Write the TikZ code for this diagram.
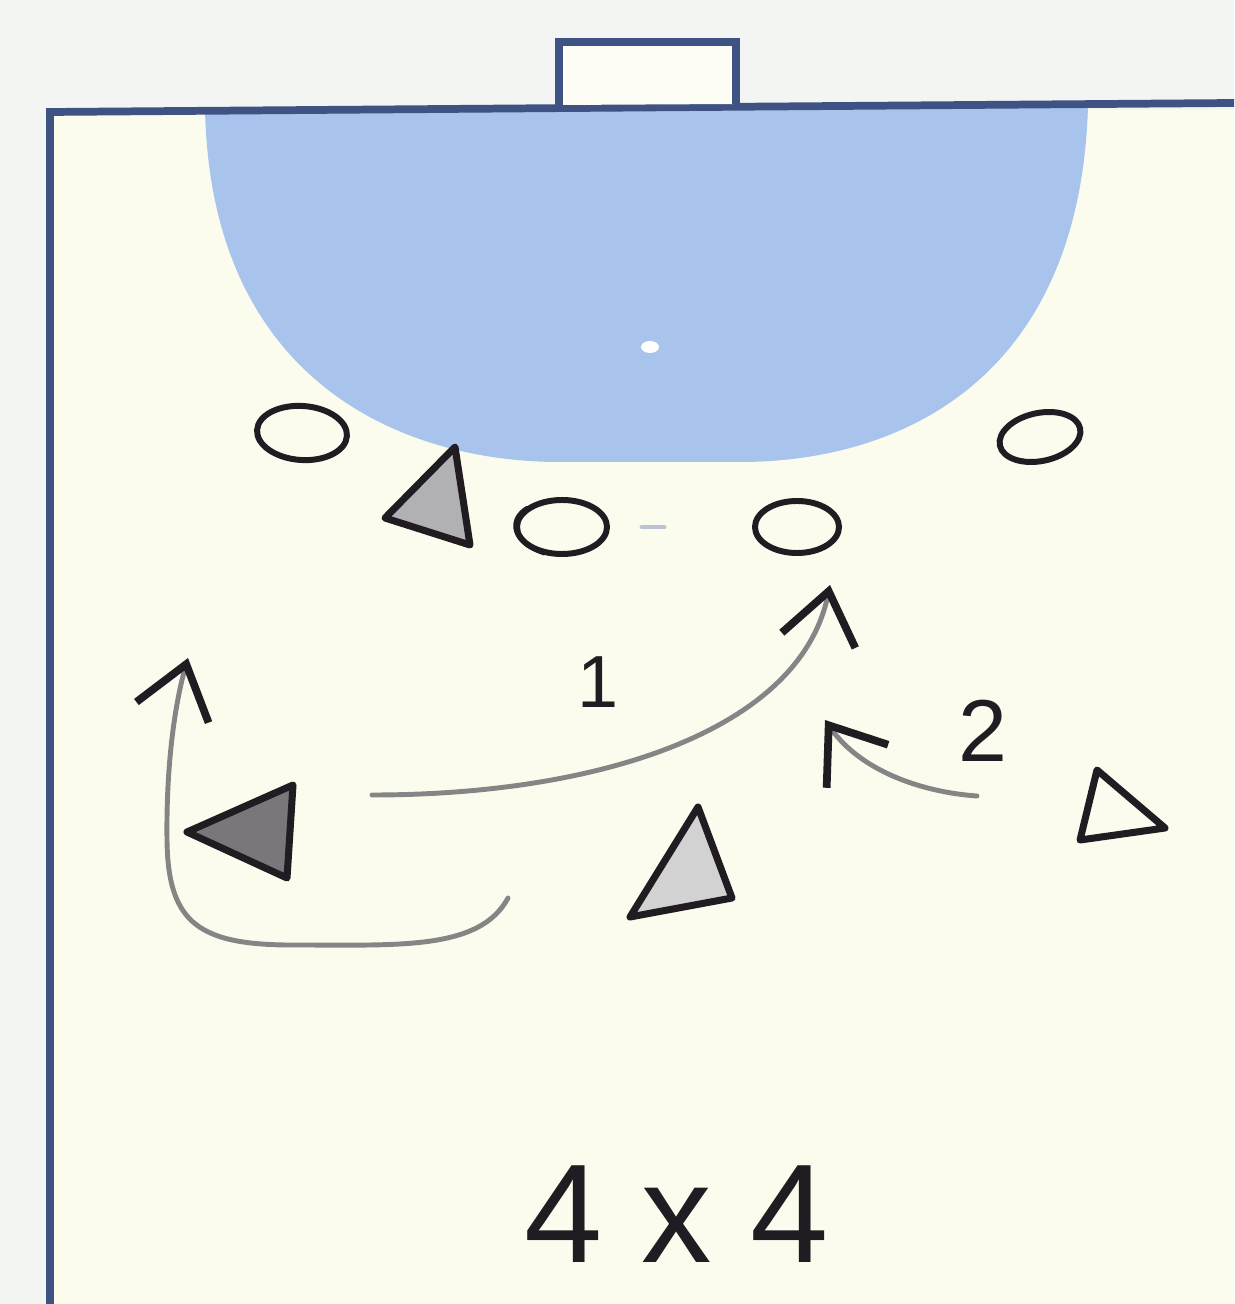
\documentclass[tikz,border=0pt]{standalone}
\usepackage{fontspec}
\setmainfont{Liberation Sans}
\usepackage{xcolor}
\usetikzlibrary{arrows.meta,shapes.geometric}

\definecolor{courtline}{RGB}{62,82,132}
\definecolor{zone}{RGB}{168,196,236}
\definecolor{floor}{RGB}{252,252,238}
\definecolor{paper}{RGB}{243,245,243}
\definecolor{pen}{RGB}{32,28,34}

\begin{document}
\begin{tikzpicture}[
  x=0.01cm, y=-0.01cm,
  court/.style={draw=courtline, line width=2.2pt, line join=miter},
  def/.style={draw=pen, ellipse, line width=1.7pt, inner sep=0},
  att/.style={draw=pen, line width=2pt, line join=round},
  run/.style={draw=black!48, line width=1.4pt, line cap=round,
    -{Straight Barb[color=pen, length=5mm, width=7.5mm, line width=2.2pt]}},
  lbl/.style={text=pen, inner sep=0}
]
\useasboundingbox (0,0) rectangle (1234,1304);
\fill[paper] (0,0) rectangle (1234,1304);
\fill[floor] (50,110) rectangle (1234,1304);

\fill[zone] (205,108) .. controls (210,380) and (400,462) .. (560,462) -- (740,462)
  .. controls (900,462) and (1080,380) .. (1088,106) -- cycle;
\fill[white] (650,347) ellipse [x radius=9, y radius=6];

\draw[court] (50,1304) -- (50,112) -- (1234,103);
\draw[court, fill=floor!60!white] (559,105) -- (559,42) -- (736,42) -- (736,104);

\node[def, minimum width=9mm, minimum height=5.4mm, rotate=-4] (d1) at (302,433) {};
\node[def, minimum width=9mm, minimum height=5.4mm] (d2) at (562,527) {};
\node[def, minimum width=8.4mm, minimum height=5.2mm] (d3) at (797,527) {};
\node[def, minimum width=8.2mm, minimum height=4.8mm, rotate=12] (d4) at (1040,437) {};
\draw[att, line width=1.5pt] (528,508) .. controls (508,520) and (512,542) .. (545,553);
\draw[draw=courtline!35, line width=1.4pt, line cap=round] (642,527) -- (664,527);

\draw[att, fill=pen!35] (455,447) -- (385,518) -- (470,545) -- cycle;
\draw[att, fill=pen!60] (293,785) -- (187,832) -- (287,878) -- cycle;
\draw[att, fill=pen!20] (698,807) -- (630,917) -- (732,898) -- cycle;
\draw[att, fill=floor] (1097,770) -- (1080,840) -- (1165,828) -- cycle;

\coordinate (a1) at (372,795);
\coordinate (b1) at (830,585);
\coordinate (a2) at (977,796);
\coordinate (b2) at (825,720);
\coordinate (a3) at (508,898);
\coordinate (b3) at (188,658);

\draw[run] (a1) .. controls (600,795) and (800,730) .. (b1);
\draw[run] (a2) .. controls (920,792) and (860,770) .. (b2);
\draw[run] (a3) .. controls (480,950) and (400,945) .. (300,945)
  .. controls (200,946) and (168,925) .. (167,840)
  .. controls (166,760) and (176,700) .. (b3);

\node[lbl, font=\fontsize{21}{24}\selectfont] (n1) at (598,682) {1};
\node[lbl, font=\fontsize{25}{28}\selectfont] (n2) at (983,731) {2};
\node[lbl, font=\fontsize{40}{44}\selectfont] (game) at (677,1214) {4\kern11pt x\kern11pt 4};
\end{tikzpicture}
\end{document}
